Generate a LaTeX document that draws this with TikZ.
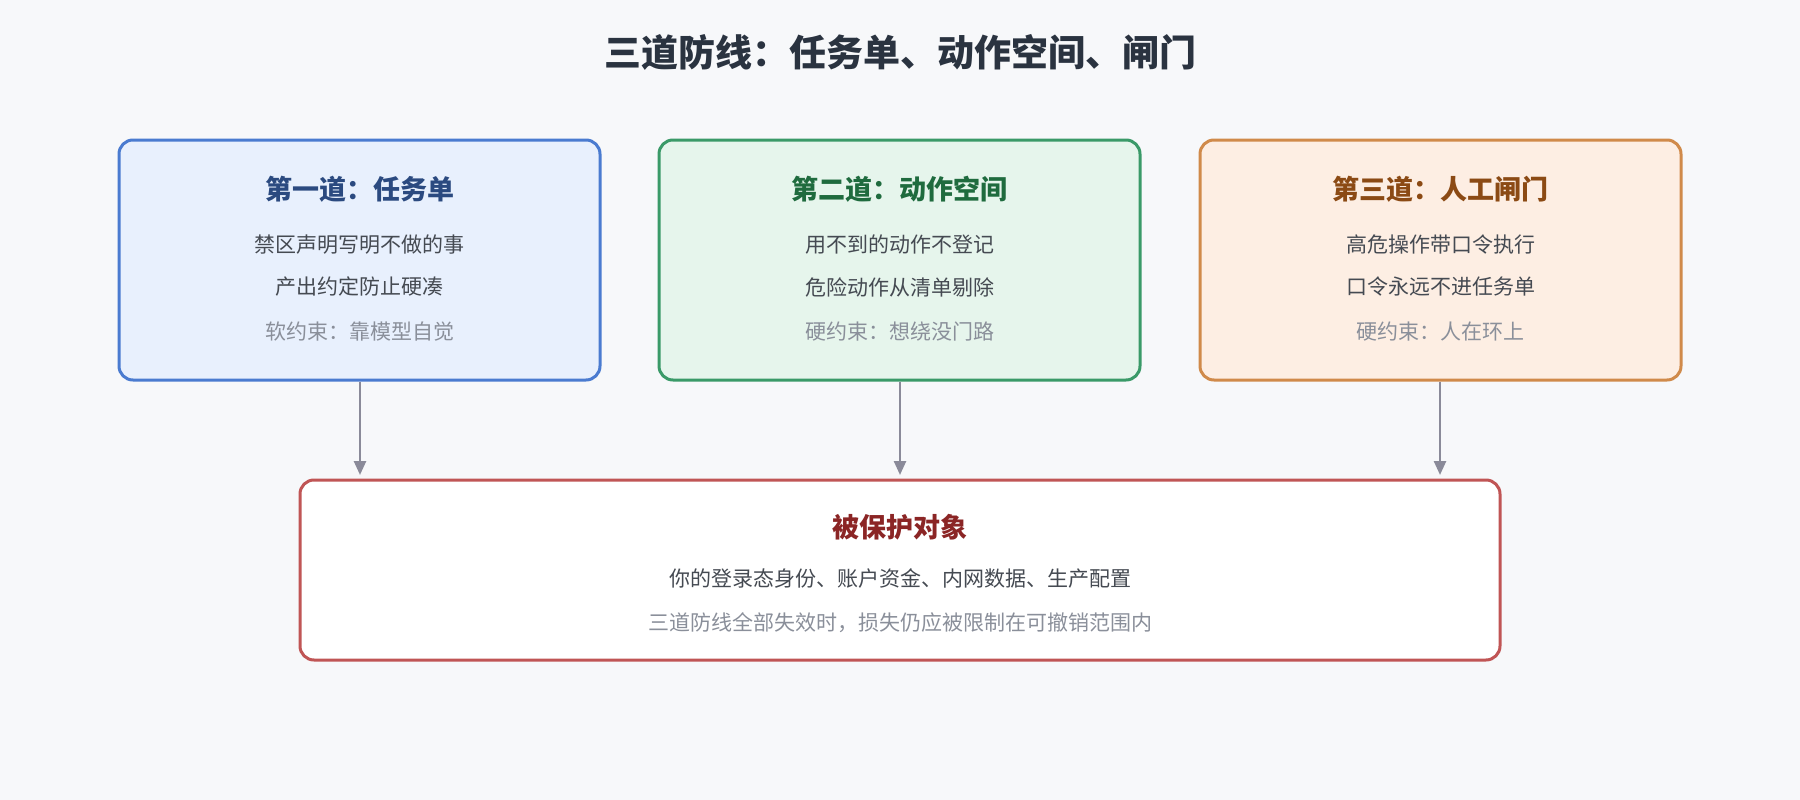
\documentclass[tikz,border=0pt]{standalone}
\usepackage{fontspec}
\setmainfont{Noto Sans CJK SC}
\usetikzlibrary{arrows.meta}
\definecolor{bg}{HTML}{F7F8FA}
\definecolor{bAf}{HTML}{E8F0FD}\definecolor{bAd}{HTML}{4A7BD0}\definecolor{bAt}{HTML}{2B4A80}
\definecolor{bBf}{HTML}{E6F5EC}\definecolor{bBd}{HTML}{3A9A68}\definecolor{bBt}{HTML}{1F6B3E}
\definecolor{bCf}{HTML}{FDEEE3}\definecolor{bCd}{HTML}{D08A4A}\definecolor{bCt}{HTML}{8B4A14}
\definecolor{bDd}{HTML}{C05555}\definecolor{bDt}{HTML}{8B2525}
\definecolor{body}{HTML}{454A52}\definecolor{muted}{HTML}{8A8F9A}\definecolor{arr}{HTML}{8A8A99}
\definecolor{ttl}{HTML}{2A3340}
\tikzset{
 box/.style={draw, line width=3pt, rounded corners=14pt},
 ttl/.style={font=\fontsize{27}{30}\selectfont\bfseries},
 txt/.style={font=\fontsize{21}{24}\selectfont, text=body},
 mut/.style={font=\fontsize{21}{24}\selectfont, text=muted},
 arw/.style={draw=arr, line width=2.5pt, -{Triangle[length=14pt,width=12pt]}}
}
\begin{document}
\begin{tikzpicture}[x=1pt,y=-1pt]
\fill[bg] (0,0) rectangle (1800,800);
\useasboundingbox (0,0) rectangle (1800,800);
\node[font=\fontsize{37}{40}\selectfont\bfseries, text=ttl] (title) at (900,52) {三道防线：任务单、动作空间、闸门};
\node[box, draw=bAd, fill=bAf, minimum width=481pt, minimum height=240pt] (b1) at (359.5,260) {};
\node[box, draw=bBd, fill=bBf, minimum width=481pt, minimum height=240pt] (b2) at (899.5,260) {};
\node[box, draw=bCd, fill=bCf, minimum width=481pt, minimum height=240pt] (b3) at (1440.5,260) {};
\node[box, draw=bDd, fill=white, minimum width=1200pt, minimum height=180pt] (b4) at (900,570) {};
\node[ttl, text=bAt] (t1) at (359.5,189) {第一道：任务单};
\node[txt] (l11) at (359.5,245) {禁区声明写明不做的事};
\node[txt] (l12) at (359.5,287) {产出约定防止硬凑};
\node[mut] (l13) at (359.5,332) {软约束：靠模型自觉};
\node[ttl, text=bBt] (t2) at (899.5,189) {第二道：动作空间};
\node[txt] (l21) at (899.5,245) {用不到的动作不登记};
\node[txt] (l22) at (899.5,287) {危险动作从清单剔除};
\node[mut] (l23) at (899.5,332) {硬约束：想绕没门路};
\node[ttl, text=bCt] (t3) at (1440.5,189) {第三道：人工闸门};
\node[txt] (l31) at (1440.5,245) {高危操作带口令执行};
\node[txt] (l32) at (1440.5,287) {口令永远不进任务单};
\node[mut] (l33) at (1440.5,332) {硬约束：人在环上};
\node[ttl, text=bDt] (t4) at (900,527) {被保护对象};
\node[txt] (l41) at (900,579) {你的登录态身份、账户资金、内网数据、生产配置};
\node[mut] (l42) at (900,623) {三道防线全部失效时，损失仍应被限制在可撤销范围内};
\coordinate (e1) at (360,475);\coordinate (e2) at (900,475);\coordinate (e3) at (1440,475);
\draw[arw] (b1.south -| e1) -- (e1);
\draw[arw] (b2.south -| e2) -- (e2);
\draw[arw] (b3.south -| e3) -- (e3);
\end{tikzpicture}
\end{document}
